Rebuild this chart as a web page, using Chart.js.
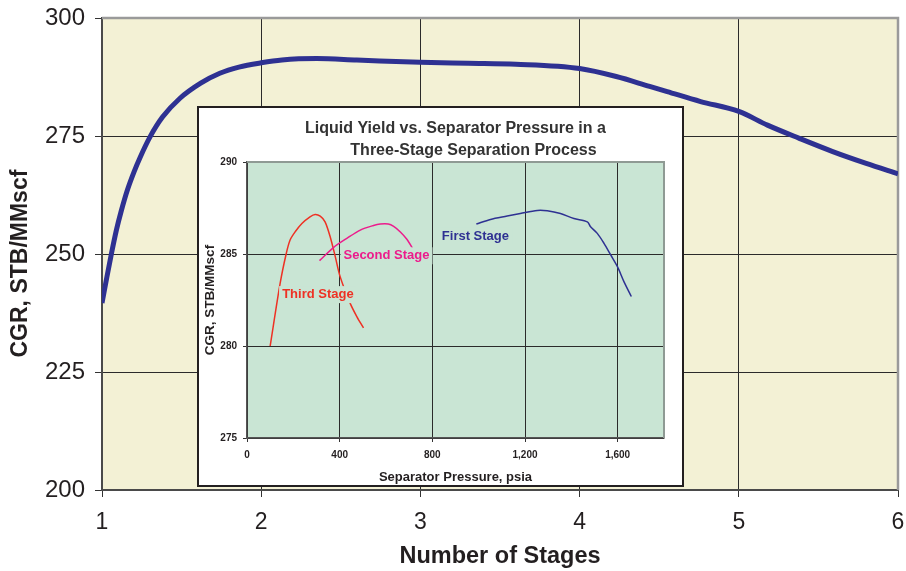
<!DOCTYPE html>
<html><head><meta charset="utf-8">
<script src="https://cdn.jsdelivr.net/npm/chart.js@4.4.0/dist/chart.umd.min.js"></script>
<style>
html,body{margin:0;padding:0;background:#fff;}
#wrap{position:relative;width:906px;height:571px;overflow:hidden;}
#main{position:absolute;left:0;top:0;}
#insetBox{position:absolute;left:197px;top:106px;width:487px;height:381px;box-sizing:border-box;border:2px solid #231F20;background:#fff;}
#inset{display:block;}
</style></head><body>
<div id="wrap">
<canvas id="main" width="906" height="571"></canvas>
<div id="insetBox"><canvas id="inset" width="483" height="377"></canvas></div>
</div>
<script>
// ---- main chart data ----
const stageCounts = [1, 1.03, 1.06, 1.09, 1.12, 1.16, 1.2, 1.24, 1.3, 1.38, 1.49, 1.62, 1.74, 1.86, 2, 2.13, 2.35, 2.6, 3, 3.3, 3.6, 4, 4.23, 4.44, 4.55, 4.76, 5, 5.18, 5.38, 5.59, 5.8, 6];
const cgrValues   = [239.6, 245.0, 250.2, 255.0, 259.0, 263.6, 267.3, 270.5, 274.7, 279.0, 283.0, 286.2, 288.3, 289.6, 290.5, 291.1, 291.4, 291.1, 290.6, 290.4, 290.2, 289.3, 287.6, 285.5, 284.4, 282.3, 280.2, 277.3, 274.5, 271.7, 269.2, 267.0];
const mainXTicks = [1, 2, 3, 4, 5, 6];
const mainYTicks = [200, 225, 250, 275, 300];

// ---- inset data ----
const thirdP   = [100, 143, 169, 186, 208, 237, 272, 294, 316, 337, 359, 381, 402, 445, 474, 503];
const thirdCGR = [280.0, 283.4, 285.0, 285.76, 286.21, 286.66, 287.02, 287.15, 287.06, 286.75, 285.94, 284.86, 283.77, 282.33, 281.6, 280.98];
const secondP   = [313, 373, 431, 489, 546, 575, 610, 633, 662, 690, 720];
const secondCGR = [284.64, 285.35, 285.85, 286.3, 286.55, 286.63, 286.63, 286.5, 286.2, 285.8, 285.2];
const firstP   = [990, 1051, 1123, 1180, 1253, 1296, 1353, 1411, 1469, 1483, 1512, 1541, 1570, 1599, 1627, 1659];
const firstCGR = [286.63, 286.88, 287.06, 287.2, 287.37, 287.35, 287.2, 286.93, 286.75, 286.48, 286.12, 285.58, 284.95, 284.31, 283.5, 282.69];
const insetXTicks = [0, 400, 800, 1200, 1600];
const insetYTicks = [275, 280, 285, 290];
const stageNames = ['First Stage', 'Second Stage', 'Third Stage'];
const insetTitle = ['Liquid Yield vs. Separator Pressure in a', 'Three-Stage Separation Process'];

const FONT = '"Liberation Sans", Arial, Helvetica, sans-serif';
const toXY = (xs, ys) => xs.map((x, i) => ({x: x, y: ys[i]}));
const noPad = s => { s.paddingLeft = 0; s.paddingRight = 0; s.paddingTop = 0; s.paddingBottom = 0; };

const frame = {
  id: 'frame',
  beforeDraw(chart, args, opts) {
    const {ctx, chartArea: a} = chart;
    ctx.save();
    ctx.fillStyle = opts.bg;
    ctx.fillRect(a.left, a.top, a.right - a.left, a.bottom - a.top);
    ctx.restore();
  },
  beforeDatasetsDraw(chart, args, opts) {
    const {ctx, chartArea: a} = chart;
    ctx.save();
    ctx.strokeStyle = opts.edge;
    ctx.lineWidth = opts.edgeWidth;
    ctx.beginPath();
    ctx.moveTo(a.left, a.top); ctx.lineTo(a.right, a.top); ctx.lineTo(a.right, a.bottom);
    ctx.stroke();
    ctx.restore();
  }
};

// ---------- main chart ----------
new Chart(document.getElementById('main'), {
  type: 'scatter',
  data: { datasets: [{
    data: toXY(stageCounts, cgrValues), showLine: true, borderColor: '#2E3192', borderWidth: 5,
    pointRadius: 0, cubicInterpolationMode: 'monotone', fill: false
  }]},
  options: {
    responsive: false, animation: false, devicePixelRatio: 1,
    layout: { padding: { top: 18, right: 8, bottom: 0, left: 0 } },
    plugins: { legend: {display: false}, tooltip: {enabled: false},
      frame: { bg: '#F3F1D5', edge: '#9A9A9A', edgeWidth: 2.5 } },
    scales: {
      x: {
        type: 'linear', min: 1, max: 6,
        afterBuildTicks: s => { s.ticks = mainXTicks.map(v => ({value: v})); },
        afterFit: s => { s.height = 81; noPad(s); },
        grid: { color: c => (c.tick && c.tick.value === 6) ? 'rgba(0,0,0,0)' : '#2b2b2b', lineWidth: 1, tickLength: 7, tickColor: '#333' },
        border: { color: '#4a4a4a', width: 2 },
        ticks: { font: {family: FONT, size: 23}, color: '#231F20', padding: 12, maxRotation: 0 },
        title: { display: true, text: 'Number of Stages', font: {family: FONT, size: 23.5, weight: 'bold'}, color: '#231F20', padding: {top: 0, bottom: 0} }
      },
      y: {
        type: 'linear', min: 200, max: 300,
        afterBuildTicks: s => { s.ticks = mainYTicks.map(v => ({value: v})); },
        afterFit: s => { s.width = 102; noPad(s); },
        grid: { color: c => (c.tick && c.tick.value === 300) ? 'rgba(0,0,0,0)' : '#2b2b2b', lineWidth: 1, tickLength: 7, tickColor: '#333' },
        border: { color: '#4a4a4a', width: 2 },
        ticks: { font: {family: FONT, size: 24}, color: '#231F20', padding: 10 },
        title: { display: true, text: 'CGR, STB/MMscf   ', font: {family: FONT, size: 23, weight: 'bold'}, color: '#231F20', padding: {top: 7, bottom: 0} }
      }
    }
  },
  plugins: [frame]
});

// ---------- inset chart ----------
const insetDecor = {
  id: 'insetDecor',
  afterDatasetsDraw(chart, args, opts) {
    const {ctx, chartArea: a, scales} = chart;
    ctx.save();
    ctx.font = 'bold 13px ' + FONT;
    ctx.textAlign = 'center'; ctx.textBaseline = 'middle';
    opts.labels.forEach(l => {
      const px = scales.x.getPixelForValue(l.x), py = scales.y.getPixelForValue(l.y);
      const w = ctx.measureText(l.text).width;
      ctx.fillStyle = opts.bg;
      ctx.fillRect(px - w / 2 - 3, py - 8, w + 6, 17);
      ctx.fillStyle = l.color;
      ctx.fillText(l.text, px, py + 0.5);
    });
    ctx.font = 'bold 16px ' + FONT;
    ctx.fillStyle = '#333333';
    const cx = (a.left + a.right) / 2;
    ctx.fillText(insetTitle[0], cx, 21);
    ctx.fillText(insetTitle[1], cx + 18, 43);
    ctx.restore();
  }
};

new Chart(document.getElementById('inset'), {
  type: 'scatter',
  data: { datasets: [
    { data: toXY(firstP, firstCGR), showLine: true, borderColor: '#2E3192', borderWidth: 1.5, pointRadius: 0, tension: 0.3 },
    { data: toXY(secondP, secondCGR), showLine: true, borderColor: '#EC1C8C', borderWidth: 1.5, pointRadius: 0, tension: 0.3 },
    { data: toXY(thirdP, thirdCGR), showLine: true, borderColor: '#EE3124', borderWidth: 1.5, pointRadius: 0, tension: 0.3 }
  ]},
  options: {
    responsive: false, animation: false, devicePixelRatio: 1,
    layout: { padding: { top: 54, right: 18, bottom: 0, left: 0 } },
    plugins: { legend: {display: false}, tooltip: {enabled: false},
      frame: { bg: '#C9E5D4', edge: '#8F9A94', edgeWidth: 2 },
      insetDecor: { bg: '#C9E5D4', labels: [
        { text: stageNames[0], x: 986, y: 285.99, color: '#2E3192' },
        { text: stageNames[1], x: 602, y: 284.93, color: '#EC1C8C' },
        { text: stageNames[2], x: 306, y: 282.82, color: '#EE3124' }
      ]}
    },
    scales: {
      x: {
        type: 'linear', min: 0, max: 1800,
        afterBuildTicks: s => { s.ticks = insetXTicks.map(v => ({value: v})); },
        afterFit: s => { s.height = 47; noPad(s); },
        grid: { color: '#2b2b2b', lineWidth: 1, tickLength: 4, tickColor: '#333' },
        border: { color: '#555', width: 1.5 },
        ticks: { font: {family: FONT, size: 10, weight: 'bold'}, color: '#231F20', padding: 7, maxRotation: 0,
                 callback: v => Number(v).toLocaleString('en-US') },
        title: { display: true, text: 'Separator Pressure, psia', font: {family: FONT, size: 13, weight: 'bold'}, color: '#231F20', padding: {top: 0, bottom: 0} }
      },
      y: {
        type: 'linear', min: 275, max: 290,
        afterBuildTicks: s => { s.ticks = insetYTicks.map(v => ({value: v})); },
        afterFit: s => { s.width = 48; noPad(s); },
        grid: { color: c => (c.tick && c.tick.value === 290) ? 'rgba(0,0,0,0)' : '#2b2b2b', lineWidth: 1, tickLength: 4, tickColor: '#333' },
        border: { color: '#555', width: 1.5 },
        ticks: { font: {family: FONT, size: 10, weight: 'bold'}, color: '#231F20', padding: 6 },
        title: { display: true, text: 'CGR, STB/MMscf', font: {family: FONT, size: 13.5, weight: 'bold'}, color: '#231F20', padding: {top: 3, bottom: 0} }
      }
    }
  },
  plugins: [frame, insetDecor]
});
</script>
</body></html>
